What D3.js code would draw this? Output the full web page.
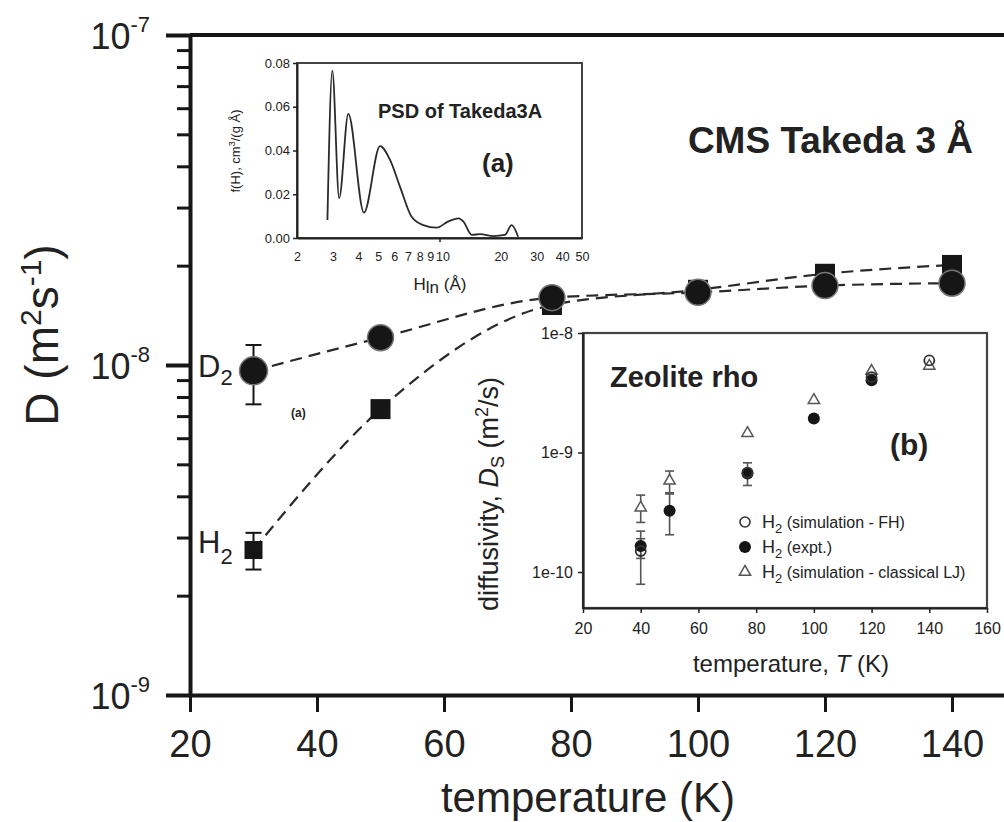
<!DOCTYPE html>
<html>
<head>
<meta charset="utf-8">
<script src="https://cdn.jsdelivr.net/npm/d3@7"></script>
<style>
    body { margin: 0; background: #fff; }
    svg { font-family: "Liberation Sans", Arial, Helvetica, sans-serif; }
</style>
</head>
<body>
<div id="chart"></div>
<script>
// ---- main plot: self diffusivity in CMS Takeda 3A ----
const temps = [30, 50, 77, 100, 120, 140];
const d2Values = [9.6e-9, 1.21e-8, 1.6e-8, 1.66e-8, 1.74e-8, 1.77e-8];
const d2ErrLow = [7.6e-9, null, null, null, null, null];
const d2ErrHigh = [1.15e-8, null, null, null, null, null];
const h2Values = [2.75e-9, 7.35e-9, 1.52e-8, 1.69e-8, 1.89e-8, 2.01e-8];
const h2ErrLow = [2.4e-9, null, null, null, null, null];
const h2ErrHigh = [3.1e-9, null, null, null, null, null];
const mainXTicks = [20, 40, 60, 80, 100, 120, 140];
const mainYTicks = [1e-9, 1e-8, 1e-7];
const mainYLabels = ["-9", "-8", "-7"];

// ---- inset (a): pore size distribution ----
const psdH = [2.82, 2.98, 3.22, 3.57, 4.26, 5.11, 5.72, 6.4, 7.3, 8.33, 9.68, 11.0, 12.4, 13.1, 14.4, 15.8, 18.4, 20.9, 22.6, 24.3];
const psdF = [0.0082, 0.0765, 0.0182, 0.0567, 0.0116, 0.042, 0.0357, 0.0235, 0.0097, 0.0059, 0.0047, 0.0075, 0.009, 0.0075, 0.0014, 0.0018, 0.0009, 0.0014, 0.0059, 0.0006];
const psdXTicks = [2, 3, 4, 5, 6, 7, 8, 9, 10, 20, 30, 40, 50];
const psdYTicks = [0, 0.02, 0.04, 0.06, 0.08];

// ---- inset (b): zeolite rho ----
const fhTemps = [40, 77, 120, 140];
const fhValues = [1.5e-10, 6.8e-10, 4.27e-9, 5.9e-9];
const fhErrLow = [7.9e-11, null, null, null];
const fhErrHigh = [1.9e-10, null, null, null];
const exptTemps = [40, 50, 77, 100, 120];
const exptValues = [1.65e-10, 3.26e-10, 6.67e-10, 1.93e-9, 4.03e-9];
const exptErrLow = [1.3e-10, 2.05e-10, 5.3e-10, null, null];
const exptErrHigh = [2.2e-10, 4.5e-10, 8.2e-10, null, null];
const ljTemps = [40, 50, 77, 100, 120, 140];
const ljValues = [3.45e-10, 5.8e-10, 1.45e-9, 2.74e-9, 4.8e-9, 5.3e-9];
const ljErrLow = [2.6e-10, 4.6e-10, null, null, null, null];
const ljErrHigh = [4.4e-10, 7.0e-10, null, null, null, null];
const zeoXTicks = [20, 40, 60, 80, 100, 120, 140, 160];
const zeoYTicks = [1e-10, 1e-9, 1e-8];

const width = 1004, height = 822;
const ink = "#161616";

const svg = d3.select("#chart").append("svg")
    .attr("width", width)
    .attr("height", height);

// ================= main plot =================
const x = d3.scaleLinear().domain([20, 150]).range([190, 1015.5]);
const y = d3.scaleLog().domain([1e-9, 1e-7]).range([695, 35]);

// x axis
const xAxis = svg.append("g")
    .attr("transform", "translate(0,695)")
    .call(d3.axisBottom(x).tickValues(mainXTicks).tickSize(17).tickSizeOuter(0).tickPadding(18));
xAxis.select(".domain").attr("stroke", ink).attr("stroke-width", 4);
xAxis.selectAll(".tick line").attr("stroke", ink).attr("stroke-width", 3);
xAxis.selectAll(".tick text").attr("fill", "#222").style("font-size", "38px");

// y axis, minor ticks first then majors
let minors = [];
[1e-9, 1e-8].forEach(dec => { for (let k = 2; k <= 9; k++) minors.push(k * dec); });
const yMinor = svg.append("g")
    .attr("transform", "translate(190,0)")
    .call(d3.axisLeft(y).tickValues(minors).tickSize(13).tickSizeOuter(0).tickFormat(""));
yMinor.select(".domain").remove();
yMinor.selectAll(".tick line").attr("stroke", ink).attr("stroke-width", 3);

const yAxis = svg.append("g")
    .attr("transform", "translate(190,0)")
    .call(d3.axisLeft(y).tickValues(mainYTicks).tickSize(24).tickSizeOuter(0).tickFormat(""));
yAxis.select(".domain").attr("stroke", ink).attr("stroke-width", 4);
yAxis.selectAll(".tick line").attr("stroke", ink).attr("stroke-width", 4);

// 10^n labels
const yLab = svg.append("g").selectAll("text")
    .data(mainYTicks)
    .join("text")
    .attr("x", 150)
    .attr("y", d => y(d) + 14)
    .attr("text-anchor", "end")
    .attr("fill", "#222")
    .style("font-size", "36px");
yLab.append("tspan").text("10");
yLab.append("tspan").attr("dy", -17).style("font-size", "22px").text((d, i) => mainYLabels[i]);

// top frame line
svg.append("line")
    .attr("x1", x(20)).attr("x2", width + 10)
    .attr("y1", y(1e-7)).attr("y2", y(1e-7))
    .attr("stroke", ink).attr("stroke-width", 4);

// axis titles
svg.append("text")
    .attr("x", 588).attr("y", 812)
    .attr("text-anchor", "middle")
    .attr("fill", "#222")
    .style("font-size", "42px")
    .text("temperature (K)");

const yTitle = svg.append("text")
    .attr("transform", "translate(58,335) rotate(-90)")
    .attr("text-anchor", "middle")
    .attr("fill", "#222")
    .style("font-size", "46px");
yTitle.append("tspan").text("D (m");
yTitle.append("tspan").attr("dy", -17).style("font-size", "30px").text("2");
yTitle.append("tspan").attr("dy", 17).text("s");
yTitle.append("tspan").attr("dy", -17).style("font-size", "30px").text("-1");
yTitle.append("tspan").attr("dy", 17).text(")");

svg.append("text")
    .attr("x", 973).attr("y", 153)
    .attr("text-anchor", "end")
    .attr("fill", "#222")
    .style("font-size", "37px")
    .style("font-weight", "bold")
    .text("CMS Takeda 3 Å");

// dashed curves
const d2Points = temps.map((t, i) => [x(t), y(d2Values[i])]);
const h2Points = temps.map((t, i) => [x(t), y(h2Values[i])]);
const curve = d3.line().curve(d3.curveMonotoneX);

[h2Points, d2Points].forEach(pts => {
    svg.append("path")
        .attr("d", curve(pts))
        .attr("fill", "none")
        .attr("stroke", "#2a2a2a")
        .attr("stroke-width", 2.2)
        .attr("stroke-dasharray", "12,7");
});

// error bars helper
function errorBars(g, xs, lows, highs, xScale, yScale, cap, color, sw) {
    xs.forEach((t, i) => {
        if (lows[i] == null) return;
        const cx = xScale(t), y0 = yScale(lows[i]), y1 = yScale(highs[i]);
        g.append("line").attr("x1", cx).attr("x2", cx).attr("y1", y0).attr("y2", y1)
            .attr("stroke", color).attr("stroke-width", sw);
        [y0, y1].forEach(yy => {
            g.append("line").attr("x1", cx - cap / 2).attr("x2", cx + cap / 2)
                .attr("y1", yy).attr("y2", yy)
                .attr("stroke", color).attr("stroke-width", sw);
        });
    });
}

const mainErr = svg.append("g");
errorBars(mainErr, temps, d2ErrLow, d2ErrHigh, x, y, 16, ink, 2);
errorBars(mainErr, temps, h2ErrLow, h2ErrHigh, x, y, 16, ink, 2);

// H2 squares
svg.append("g").selectAll("rect")
    .data(temps)
    .join("rect")
    .attr("x", (d, i) => x(d) - (i === 0 ? 9 : 10))
    .attr("y", (d, i) => y(h2Values[i]) - (i === 0 ? 9 : 10))
    .attr("width", (d, i) => i === 0 ? 18 : 20)
    .attr("height", (d, i) => i === 0 ? 18 : 20)
    .attr("fill", ink);

// D2 circles
svg.append("g").selectAll("circle")
    .data(temps)
    .join("circle")
    .attr("cx", d => x(d))
    .attr("cy", (d, i) => y(d2Values[i]))
    .attr("r", (d, i) => i === 0 ? 14 : 13)
    .attr("fill", ink)
    .attr("stroke", "#777")
    .attr("stroke-width", 1.5);

// species labels
const d2Lab = svg.append("text").attr("x", 198).attr("y", 377).attr("fill", "#222").style("font-size", "31px");
d2Lab.append("tspan").text("D");
d2Lab.append("tspan").attr("dy", 8).style("font-size", "22px").text("2");
const h2Lab = svg.append("text").attr("x", 198).attr("y", 553).attr("fill", "#222").style("font-size", "31px");
h2Lab.append("tspan").text("H");
h2Lab.append("tspan").attr("dy", 11).style("font-size", "22px").text("2");

svg.append("text")
    .attr("x", 291).attr("y", 417)
    .attr("fill", "#222")
    .style("font-size", "12px")
    .style("font-weight", "bold")
    .text("(a)");

// ================= inset (a) =================
const xA = d3.scaleLog().domain([2, 50]).range([297, 582]);
const yA = d3.scaleLinear().domain([0, 0.08]).range([238, 63]);
const insetA = svg.append("g");

insetA.append("rect")
    .attr("x", 297).attr("y", 63)
    .attr("width", 582 - 297).attr("height", 238 - 63)
    .attr("fill", "#fff")
    .attr("stroke", "#444")
    .attr("stroke-width", 2);

const aX = insetA.append("g")
    .attr("transform", "translate(0,238)")
    .call(d3.axisBottom(xA).tickValues(psdXTicks).tickFormat(d3.format("d")).tickSize(0).tickSizeOuter(0).tickPadding(14));
aX.select(".domain").attr("stroke", "#222").attr("stroke-width", 2);
aX.selectAll(".tick text").attr("fill", "#222").style("font-size", "12.5px")
    .attr("dx", d => d === 10 ? 3 : 0);
const aX10 = insetA.append("g")
    .attr("transform", "translate(0,238)")
    .call(d3.axisBottom(xA).tickValues([10]).tickFormat("").tickSize(4).tickSizeOuter(0));
aX10.select(".domain").remove();
aX10.selectAll(".tick line").attr("stroke", "#222").attr("stroke-width", 1.5);

const aY = insetA.append("g")
    .attr("transform", "translate(297,0)")
    .call(d3.axisLeft(yA).tickValues(psdYTicks).tickFormat(d3.format(".2f")).tickSize(4).tickSizeOuter(0).tickPadding(3));
aY.select(".domain").attr("stroke", "#222").attr("stroke-width", 2);
aY.selectAll(".tick line").attr("stroke", "#222").attr("stroke-width", 1.5);
aY.selectAll(".tick text").attr("fill", "#222").style("font-size", "13px");

insetA.append("path")
    .attr("d", d3.line().curve(d3.curveMonotoneX)(psdH.map((h, i) => [xA(h), yA(psdF[i])])))
    .attr("fill", "none")
    .attr("stroke", "#2a2a2a")
    .attr("stroke-width", 1.8);

const aXTitle = insetA.append("text")
    .attr("x", 440).attr("y", 290)
    .attr("text-anchor", "middle")
    .attr("fill", "#222")
    .style("font-size", "17px");
aXTitle.append("tspan").text("H");
aXTitle.append("tspan").attr("dy", 3).text("ln");
aXTitle.append("tspan").attr("dy", -3).text(" (Å)");

const aYTitle = insetA.append("text")
    .attr("transform", "translate(240,151) rotate(-90)")
    .attr("text-anchor", "middle")
    .attr("fill", "#222")
    .style("font-size", "13px");
aYTitle.append("tspan").text("f(H), cm");
aYTitle.append("tspan").attr("dy", -5).style("font-size", "9px").text("3");
aYTitle.append("tspan").attr("dy", 5).text("/(g Å)");

insetA.append("text")
    .attr("x", 378).attr("y", 118)
    .attr("fill", "#222")
    .style("font-size", "20px")
    .style("font-weight", "bold")
    .text("PSD of Takeda3A");

insetA.append("text")
    .attr("x", 482).attr("y", 172)
    .attr("fill", "#222")
    .style("font-size", "26px")
    .style("font-weight", "bold")
    .text("(a)");

// ================= inset (b) =================
const xB = d3.scaleLinear().domain([20, 160]).range([583, 987]);
const yB = d3.scaleLog().domain([5e-11, 1e-8]).range([608, 333]);
const insetB = svg.append("g");

insetB.append("rect")
    .attr("x", 583).attr("y", 333)
    .attr("width", 987 - 583).attr("height", 608 - 333)
    .attr("fill", "#fff")
    .attr("stroke", "#444")
    .attr("stroke-width", 2.2);

const bX = insetB.append("g")
    .attr("transform", "translate(0,608)")
    .call(d3.axisBottom(xB).tickValues(zeoXTicks).tickSize(5).tickSizeOuter(0).tickPadding(10));
bX.select(".domain").attr("stroke", "#222").attr("stroke-width", 2.2);
bX.selectAll(".tick line").attr("stroke", "#222").attr("stroke-width", 1.5);
bX.selectAll(".tick text").attr("fill", "#222").style("font-size", "16px");

const bY = insetB.append("g")
    .attr("transform", "translate(583,0)")
    .call(d3.axisLeft(yB).tickValues(zeoYTicks).tickSize(5).tickSizeOuter(0).tickPadding(5)
        .tickFormat(d => "1e" + Math.round(Math.log10(d))));
bY.select(".domain").attr("stroke", "#222").attr("stroke-width", 2.2);
bY.selectAll(".tick line").attr("stroke", "#222").attr("stroke-width", 1.5);
bY.selectAll(".tick text").attr("fill", "#222").style("font-size", "16px");

const bXTitle = insetB.append("text")
    .attr("x", 791).attr("y", 672)
    .attr("text-anchor", "middle")
    .attr("fill", "#222")
    .style("font-size", "24px");
bXTitle.append("tspan").text("temperature, ");
bXTitle.append("tspan").style("font-style", "italic").text("T");
bXTitle.append("tspan").text(" (K)");

const bYTitle = insetB.append("text")
    .attr("transform", "translate(498,494) rotate(-90)")
    .attr("text-anchor", "middle")
    .attr("fill", "#222")
    .style("font-size", "27px");
bYTitle.append("tspan").text("diffusivity, ");
bYTitle.append("tspan").style("font-style", "italic").text("D");
bYTitle.append("tspan").attr("dy", 6).style("font-size", "18px").text("S");
bYTitle.append("tspan").attr("dy", -6).text(" (m");
bYTitle.append("tspan").attr("dy", -10).style("font-size", "18px").text("2");
bYTitle.append("tspan").attr("dy", 10).text("/s)");

insetB.append("text")
    .attr("x", 610).attr("y", 387)
    .attr("fill", "#222")
    .style("font-size", "29px")
    .style("font-weight", "bold")
    .text("Zeolite rho");

insetB.append("text")
    .attr("x", 890).attr("y", 455)
    .attr("fill", "#222")
    .style("font-size", "30px")
    .style("font-weight", "bold")
    .text("(b)");

// error bars in inset b
const bErr = insetB.append("g");
errorBars(bErr, fhTemps, fhErrLow, fhErrHigh, xB, yB, 9, "#555", 1.6);
errorBars(bErr, exptTemps, exptErrLow, exptErrHigh, xB, yB, 9, "#555", 1.6);
errorBars(bErr, ljTemps, ljErrLow, ljErrHigh, xB, yB, 9, "#555", 1.6);

const triangle = d3.symbol().type(d3.symbolTriangle).size(55);

function drawTriangles(g, xs, vals) {
    g.selectAll(null)
        .data(xs)
        .join("path")
        .attr("d", triangle)
        .attr("transform", (d, i) => "translate(" + xB(d) + "," + yB(vals[i]) + ")")
        .attr("fill", "#fff")
        .attr("stroke", "#555")
        .attr("stroke-width", 1.5);
}

const bMarks = insetB.append("g");
drawTriangles(bMarks, ljTemps, ljValues);
bMarks.selectAll(null)
    .data(exptTemps)
    .join("circle")
    .attr("cx", d => xB(d))
    .attr("cy", (d, i) => yB(exptValues[i]))
    .attr("r", 6)
    .attr("fill", ink);
bMarks.selectAll(null)
    .data(fhTemps)
    .join("circle")
    .attr("cx", d => xB(d))
    .attr("cy", (d, i) => yB(fhValues[i]))
    .attr("r", 5)
    .attr("fill", "none")
    .attr("stroke", "#333")
    .attr("stroke-width", 1.8);

// legend
const legendItems = ["(simulation - FH)", "(expt.)", "(simulation - classical LJ)"];
const legend = insetB.append("g").attr("transform", "translate(745,522)");
legend.append("circle").attr("cx", 0).attr("cy", 0).attr("r", 5)
    .attr("fill", "#fff").attr("stroke", "#333").attr("stroke-width", 1.6);
legend.append("circle").attr("cx", 0).attr("cy", 25).attr("r", 6).attr("fill", ink);
legend.append("path").attr("d", triangle).attr("transform", "translate(0,50)")
    .attr("fill", "#fff").attr("stroke", "#555").attr("stroke-width", 1.5);

legendItems.forEach((lab, i) => {
    const t = legend.append("text")
        .attr("x", 17).attr("y", i * 25 + 6)
        .attr("fill", "#222")
        .style("font-size", "18px");
    t.append("tspan").text("H");
    t.append("tspan").attr("dy", 5).style("font-size", "13px").text("2");
    t.append("tspan").attr("dy", -5).style("font-size", "16px").text(" " + lab);
});
</script>
</body>
</html>
